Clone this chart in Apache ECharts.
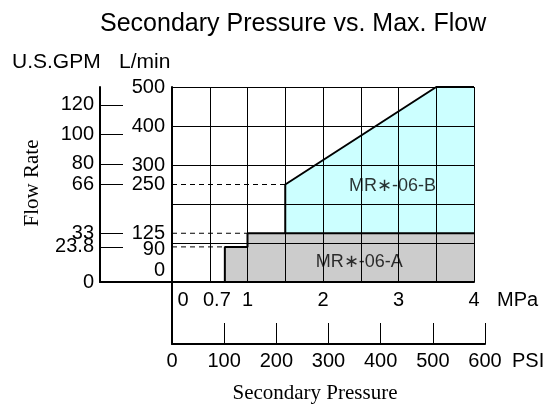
<!DOCTYPE html>
<html>
<head>
<meta charset="utf-8">
<script src="https://cdn.jsdelivr.net/npm/echarts@6/dist/echarts.min.js"></script>
<style>html,body{margin:0;padding:0;background:#fff}#c{width:556px;height:408px}</style>
</head>
<body>
<div id="c"></div>
<script>
// ---- data ----
const titleText = 'Secondary Pressure vs. Max. Flow';
const mpaLabels = [0, 0.7, 1, 2, 3, 4];              // MPa tick labels
const lminLabels = [0, 90, 125, 250, 300, 400, 500];  // L/min tick labels
const gpmLabels = [0, 23.8, 33, 66, 80, 100, 120];    // U.S.GPM tick labels
const psiLabels = [0, 100, 200, 300, 400, 500, 600];  // PSI tick labels
const LPM_PER_GPM = 3.785412;
// MR*-06-A boundary [MPa, L/min]
const seriesA = [[0.7, 0], [0.7, 90], [1, 90], [1, 125], [4, 125]];
// MR*-06-B boundary [MPa, L/min]
const seriesB = [[1.5, 0], [1.5, 250], [3.5, 500], [4, 500]];
// dashed guide lines
const guide250 = [[0, 250], [1.5, 250]];
const guide125 = [[0, 125], [1, 125]];
const guide90 = [[0, 90], [0.7, 90]];
const labelA = [2.48, 50];
const labelB = [2.92, 245];

const FONT = 'Liberation Sans, Arial, sans-serif';
const SERIF = 'Liberation Serif, Times New Roman, serif';
const TS = 20;
const chart = echarts.init(document.getElementById('c'), null, {renderer: 'canvas'});

const dashed = (data) => ({
  type: 'line', xAxisIndex: 0, yAxisIndex: 0, data, symbol: 'none', silent: true, z: 3,
  lineStyle: {color: '#000', width: 1, type: [5, 4]}
});

chart.setOption({
  animation: false,
  backgroundColor: '#fff',
  title: {
    text: titleText, left: 95, top: 7,
    textStyle: {fontFamily: FONT, fontSize: 25, fontWeight: 'normal', color: '#000'}
  },
  grid: [
    {left: 172, right: 82, top: 87, bottom: 126},
    {left: 100, right: 384, top: 87, bottom: 126},
    {left: 172, right: 71, top: 282, bottom: 64}
  ],
  xAxis: [
    {
      gridIndex: 0, type: 'value', min: 0, max: 4, interval: 0.5, z: 5,
      axisLine: {show: true, lineStyle: {color: '#000', width: 2}},
      axisTick: {show: false},
      splitLine: {show: true, lineStyle: {color: '#000', width: 1}},
      axisLabel: {
        customValues: mpaLabels, margin: 8, fontFamily: FONT, fontSize: TS, color: '#000',
        formatter: v => v === 0 ? '{z|0}' : (v === 0.7 ? '{s|0.7}' : String(v)),
        rich: {z: {padding: [0, 0, 0, 22], fontSize: TS, fontFamily: FONT}, s: {padding: [0, 16, 0, 0], fontSize: TS, fontFamily: FONT}}
      },
      name: 'MPa', nameLocation: 'end', nameGap: 23,
      nameTextStyle: {fontFamily: FONT, fontSize: TS, color: '#000', verticalAlign: 'top', padding: [8, 0, 0, 0]}
    },
    {
      gridIndex: 1, type: 'value', min: 0, max: 1,
      axisLine: {show: true, lineStyle: {color: '#000', width: 2}},
      axisTick: {show: false}, axisLabel: {show: false}, splitLine: {show: false}
    },
    {
      gridIndex: 2, type: 'value', min: 0, max: 600, interval: 100,
      axisLine: {show: true, lineStyle: {color: '#000', width: 2}},
      axisTick: {show: true, inside: true, length: 21, customValues: psiLabels.slice(1), lineStyle: {color: '#000', width: 1}},
      splitLine: {show: false},
      axisLabel: {customValues: psiLabels, margin: 7, fontFamily: FONT, fontSize: TS, color: '#000'},
      name: 'PSI', nameLocation: 'end', nameGap: 27,
      nameTextStyle: {fontFamily: FONT, fontSize: TS, color: '#000', verticalAlign: 'top', padding: [7, 0, 0, 0]}
    }
  ],
  yAxis: [
    {
      gridIndex: 0, type: 'value', min: 0, max: 500, interval: 100, z: 5,
      axisLine: {show: true, lineStyle: {color: '#000', width: 2}},
      axisTick: {show: false},
      splitLine: {show: true, lineStyle: {color: '#000', width: 1}},
      axisLabel: {
        customValues: lminLabels, margin: 7, fontFamily: FONT, fontSize: TS, color: '#000',
        formatter: v => v === 0 ? '{z|0}' : (v === 90 ? '{n|90}' : String(v)),
        rich: {z: {padding: [0, 0, 24, 0], fontSize: TS, fontFamily: FONT}, n: {padding: [6, 0, 0, 0], fontSize: TS, fontFamily: FONT}}
      }
    },
    {
      gridIndex: 1, type: 'value', min: 0, max: 500 / LPM_PER_GPM,
      axisLine: {show: true, lineStyle: {color: '#000', width: 2}},
      axisTick: {show: true, inside: true, length: 23, customValues: gpmLabels.slice(1), lineStyle: {color: '#000', width: 1}},
      splitLine: {show: false},
      axisLabel: {customValues: gpmLabels, margin: 6, fontFamily: FONT, fontSize: TS, color: '#000'}
    },
    {
      gridIndex: 2, type: 'value', min: 0, max: 1,
      axisLine: {show: true, lineStyle: {color: '#000', width: 2}},
      axisTick: {show: false}, axisLabel: {show: false}, splitLine: {show: false}
    }
  ],
  series: [
    {
      name: 'MR*-06-B', type: 'line', xAxisIndex: 0, yAxisIndex: 0, data: seriesB,
      symbol: 'none', z: 1, silent: true,
      lineStyle: {color: '#000', width: 2}, areaStyle: {color: '#ccffff', opacity: 1}
    },
    {
      name: 'MR*-06-A', type: 'line', xAxisIndex: 0, yAxisIndex: 0, data: seriesA,
      symbol: 'none', z: 2, silent: true,
      lineStyle: {color: '#000', width: 2}, areaStyle: {color: '#cccccc', opacity: 1}
    },
    dashed(guide250), dashed(guide125), dashed(guide90),
    {
      type: 'scatter', xAxisIndex: 0, yAxisIndex: 0, symbolSize: 0, silent: true, z: 6,
      data: [
        {value: labelB, label: {show: true, position: 'inside', formatter: 'MR\u2217-06-B', fontFamily: FONT, fontSize: 18, color: '#000'}},
        {value: labelA, label: {show: true, position: 'inside', formatter: 'MR\u2217-06-A', fontFamily: FONT, fontSize: 18, color: '#000'}}
      ]
    }
  ],
  graphic: [
    {type: 'text', left: 12, top: 52, style: {text: 'U.S.GPM', font: '21px ' + FONT, fill: '#000'}},
    {type: 'text', left: 119, top: 52, style: {text: 'L/min', font: '21px ' + FONT, fill: '#000'}},
    {type: 'text', x: 32, y: 183, rotation: Math.PI / 2, style: {text: 'Flow Rate', font: '21px ' + SERIF, fill: '#000', align: 'center', verticalAlign: 'middle'}},
    {type: 'text', x: 315, y: 393, style: {text: 'Secondary Pressure', font: '21px ' + SERIF, fill: '#000', align: 'center', verticalAlign: 'middle'}}
  ]
});
</script>
</body>
</html>
